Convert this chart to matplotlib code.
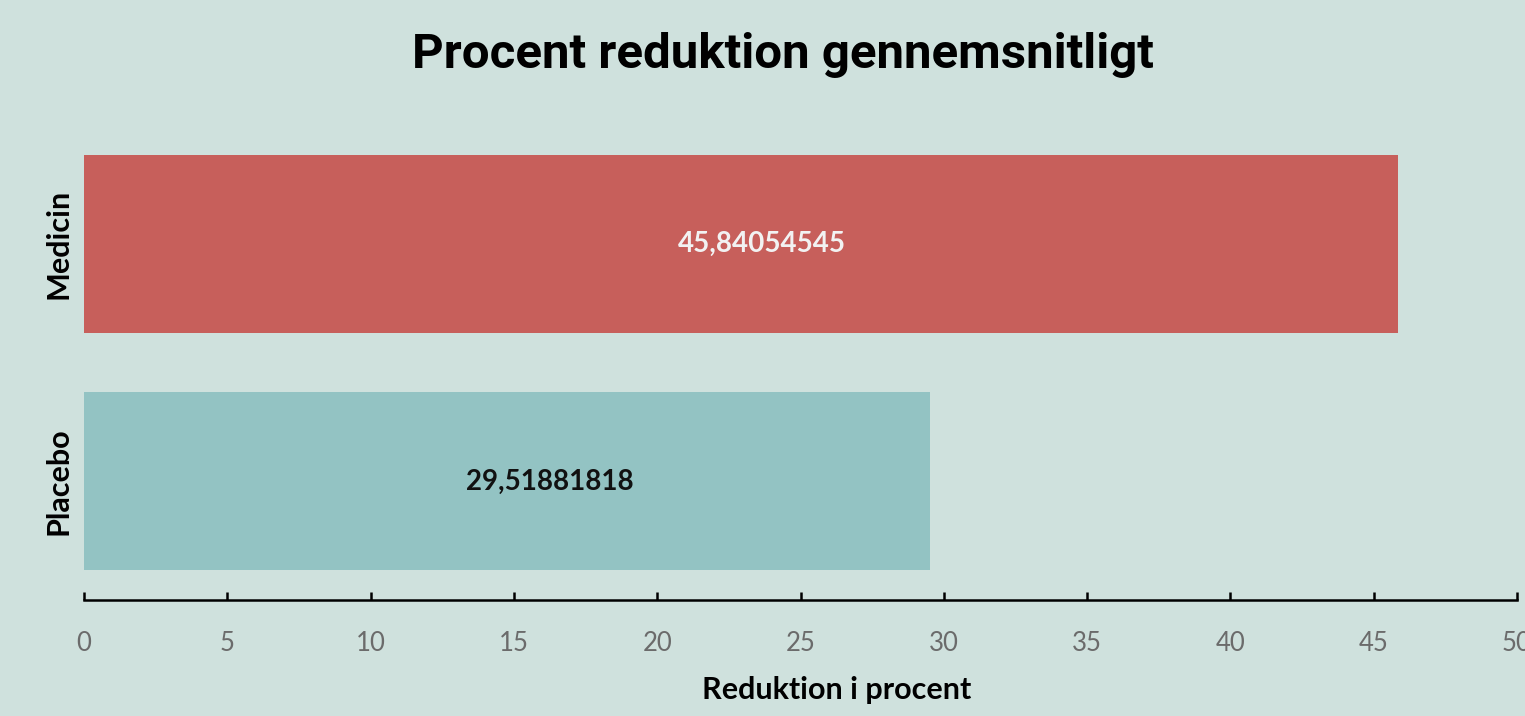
import matplotlib.pyplot as plt

# Data
categories = ['Placebo', 'Medicin']
values = [29.51881818, 45.84054545]
value_labels = ['29,51881818', '45,84054545']
bar_colors = ['#93c3c3', '#c75f5b']
label_colors = ['#111111', '#f2f2f2']
label_shift_px = [43, 21]
xticks = [0, 5, 10, 15, 20, 25, 30, 35, 40, 45, 50]

bg = '#cfe1dd'

fig = plt.figure(figsize=(15.25, 7.16), dpi=100, facecolor=bg)
ax = fig.add_axes([84 / 1525, 116 / 716, 1433 / 1525, 474.5 / 716])
ax.set_facecolor(bg)

ax.barh(categories, values, height=0.75, color=bar_colors)
ax.set_xlim(0, 50)
ax.set_ylim(-0.5, 1.5)

# Value labels inside the bars
for i, v in enumerate(values):
    ax.annotate(value_labels[i], (v / 2, i), xytext=(label_shift_px[i] * 0.72, 0),
                textcoords='offset points', ha='center', va='center',
                fontsize=20, fontweight='bold', color=label_colors[i], family='Lato')

# Axes styling
for s in ['top', 'right', 'left']:
    ax.spines[s].set_visible(False)
ax.spines['bottom'].set_linewidth(1.8)
ax.spines['bottom'].set_color('black')

ax.set_xticks(xticks)
ax.tick_params(axis='x', direction='in', length=6, width=1.8, colors='black',
               labelcolor='#6b6b6b', labelsize=18.5, pad=22)
for lbl in ax.get_xticklabels():
    lbl.set_family('Lato')

ax.tick_params(axis='y', length=0, pad=8)
ax.set_yticks(range(len(categories)))
ax.set_yticklabels(categories, rotation=90, va='center', fontsize=22,
                   fontweight='bold', family='Lato')

ax.set_xlabel('Reduktion i procent', fontsize=22, fontweight='bold', family='Lato')
ax.xaxis.set_label_coords(0.5255, -0.19)
ax.xaxis.label.set_va('center')

fig.text(783 / 1525, 1 - 55 / 716, 'Procent reduktion gennemsnitligt',
         ha='center', va='center', fontsize=35.5, fontweight='bold', family='Roboto')

fig.savefig('out.png', dpi=100, facecolor=bg)
